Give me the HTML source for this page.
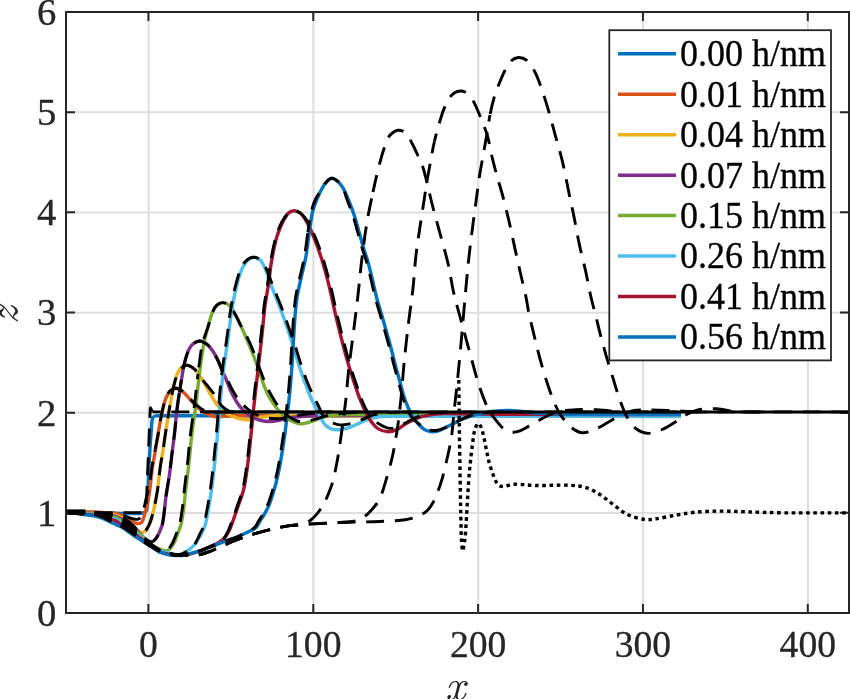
<!DOCTYPE html><html><head><meta charset="utf-8"><title>plot</title><style>html,body{margin:0;padding:0;background:#fff;overflow:hidden}svg{display:block}text{font-family:"Liberation Serif","Times New Roman",serif}</style></head><body>
<svg width="850" height="699" viewBox="0 0 850 699">
<rect width="850" height="699" fill="#fff"/>
<defs><clipPath id="ax"><rect x="66" y="12" width="783" height="601"/></clipPath></defs>
<path d="M148.57 12 V613 M313.41 12 V613 M478.26 12 V613 M643.10 12 V613 M807.94 12 V613 M66 513.03 H849 M66 412.87 H849 M66 312.70 H849 M66 212.53 H849 M66 112.37 H849" stroke="#dedede" stroke-width="2" fill="none"/>
<path d="M148.42 613 V604 M148.42 12 V21 M313.26 613 V604 M313.26 12 V21 M478.11 613 V604 M478.11 12 V21 M642.95 613 V604 M642.95 12 V21 M807.79 613 V604 M807.79 12 V21 M66 613.00 H75 M849 613.00 H840 M66 512.83 H75 M849 512.83 H840 M66 412.67 H75 M849 412.67 H840 M66 312.50 H75 M849 312.50 H840 M66 212.33 H75 M849 212.33 H840 M66 112.17 H75 M849 112.17 H840 M66 12.00 H75 M849 12.00 H840" stroke="#262626" stroke-width="2" fill="none"/>
<g clip-path="url(#ax)" fill="none" stroke-linejoin="round">
<path d="M66.0 512.6 C77.33 512.63 88.00 512.64 100.0 512.7 C113.49 512.77 137.08 514.54 143.0 513.0 C144.68 512.56 145.29 512.28 146.0 511.3 C146.97 509.97 146.95 507.90 147.3 505.0 C148.07 498.73 148.02 485.00 148.5 475.0 C148.98 465.00 149.66 453.28 150.2 445.0 C150.58 439.14 150.97 434.36 151.3 430.0 C151.56 426.62 151.59 423.29 152.0 421.0 C152.26 419.55 152.41 418.36 153.0 417.5 C153.49 416.79 154.22 416.31 155.0 416.0 C155.86 415.66 156.14 415.79 158.0 415.7 L681.0 415.7" stroke="#0072BD" stroke-width="3.4"/>
<path d="M66.0 512.4 C69.00 512.33 71.92 512.30 75.0 512.2 C78.25 512.10 81.67 511.83 85.0 511.8 C88.33 511.77 91.76 511.86 95.0 512.0 C98.08 512.13 101.09 512.39 104.0 512.6 C106.75 512.79 109.79 513.03 112.0 513.2 C113.56 513.32 114.91 513.27 116.0 513.5 C116.79 513.67 117.20 513.94 118.0 514.2 C119.16 514.58 120.98 514.80 122.3 515.5 C123.66 516.22 124.64 517.55 126.0 518.5 C127.51 519.56 129.39 520.72 131.0 521.5 C132.38 522.16 133.69 522.65 135.0 523.0 C136.19 523.32 137.39 523.70 138.5 523.6 C139.55 523.50 140.67 523.27 141.5 522.5 C142.65 521.44 143.30 518.98 144.0 517.0 C144.76 514.84 145.20 512.45 145.8 510.0 C146.46 507.31 147.18 504.56 147.8 501.5 C148.52 497.97 149.18 494.37 149.8 490.0 C150.61 484.26 151.09 476.38 152.0 470.0 C152.85 464.09 154.01 458.75 155.0 453.0 C156.01 447.09 157.05 440.73 158.0 435.0 C158.87 429.77 159.62 424.71 160.5 420.0 C161.29 415.77 162.04 411.80 163.0 408.0 C163.89 404.49 164.72 400.97 166.0 398.0 C167.12 395.39 168.22 392.65 170.0 391.0 C171.60 389.51 173.85 388.17 175.9 388.2 C178.16 388.23 180.78 390.12 183.0 391.8 C185.53 393.71 187.67 396.87 190.0 399.4 C192.33 401.93 194.44 404.73 197.0 407.0 C199.55 409.26 202.36 411.41 205.3 413.0 C208.17 414.55 211.29 415.96 214.4 416.5 C217.46 417.03 220.57 416.41 223.8 416.3 C227.23 416.18 228.27 415.95 234.4 415.8 C274.14 414.86 532.13 415.73 681.0 415.7" stroke="#D95319" stroke-width="3.4"/>
<path d="M66.0 512.4 C69.00 512.38 71.92 512.37 75.0 512.4 C78.25 512.33 81.67 512.24 85.0 512.3 C88.33 512.36 91.67 512.45 95.0 512.7 C98.34 512.95 101.59 513.40 105.0 513.8 C108.58 514.22 112.89 514.33 116.0 515.2 C118.45 515.88 120.28 516.98 122.3 518.0 C124.27 518.99 126.23 519.93 128.0 521.2 C129.80 522.48 131.39 524.17 133.0 525.7 C134.56 527.13 135.97 528.86 137.5 530.1 C138.84 531.11 140.24 532.50 141.6 532.6 C142.84 532.69 144.26 531.86 145.3 531.0 C146.43 530.06 147.17 528.48 148.0 527.0 C148.93 525.35 149.75 523.54 150.5 521.5 C151.38 519.11 152.08 516.29 152.8 513.5 C153.58 510.48 154.29 507.48 155.0 504.0 C155.86 499.79 156.73 495.15 157.5 490.0 C158.43 483.72 159.06 475.82 160.0 469.0 C160.90 462.50 162.01 456.42 163.0 450.0 C164.01 443.42 164.99 436.58 166.0 430.0 C166.99 423.58 168.02 416.85 169.0 411.0 C169.85 405.97 170.59 401.66 171.5 397.0 C172.42 392.33 173.17 387.53 174.5 383.0 C175.81 378.54 176.99 373.03 179.4 370.0 C181.29 367.63 184.00 365.45 186.5 365.3 C189.09 365.14 192.20 367.26 194.7 369.4 C197.82 372.07 200.37 376.88 203.0 381.0 C205.79 385.38 208.41 390.82 210.9 395.0 C212.97 398.47 214.58 401.59 216.8 404.4 C218.90 407.06 221.23 409.52 223.8 411.5 C226.31 413.43 229.09 414.94 232.0 416.2 C234.98 417.49 238.55 418.53 241.5 419.1 C243.98 419.58 246.00 419.83 248.5 419.7 C251.41 419.55 254.76 418.48 257.9 417.9 C261.06 417.32 264.06 416.57 267.4 416.2 C271.08 415.79 272.43 415.84 279.1 415.7 L681.0 415.7" stroke="#EDB120" stroke-width="3.4"/>
<path d="M66.0 512.4 C69.00 512.43 71.92 512.44 75.0 512.5 C78.25 512.57 81.67 512.67 85.0 512.8 C88.33 512.93 91.68 512.95 95.0 513.3 C98.34 513.65 101.59 514.36 105.0 514.9 C108.58 515.46 112.90 515.62 116.0 516.6 C118.46 517.38 120.13 518.49 122.3 519.7 C124.77 521.07 127.65 522.80 130.0 524.5 C132.18 526.08 134.14 527.76 136.0 529.5 C137.79 531.18 139.37 533.13 141.0 534.8 C142.47 536.21 143.87 537.68 145.3 538.8 C146.54 539.77 147.78 540.71 149.0 541.2 C150.01 541.61 151.01 542.03 152.0 541.8 C153.21 541.51 154.53 540.23 155.6 539.0 C156.89 537.51 157.87 535.34 158.9 533.2 C160.09 530.74 161.37 527.98 162.2 525.0 C163.14 521.65 163.44 518.07 164.0 514.0 C164.69 508.96 165.08 503.02 165.9 497.0 C166.83 490.13 168.39 482.22 169.4 475.0 C170.38 468.03 171.05 461.27 171.9 454.4 C172.75 447.51 173.68 440.88 174.5 433.7 C175.39 425.93 176.09 416.82 177.0 409.4 C177.78 403.11 178.66 397.52 179.5 392.0 C180.26 386.97 181.01 382.26 181.8 377.6 C182.55 373.18 183.05 369.06 184.1 364.7 C185.21 360.07 186.67 354.29 188.4 350.6 C189.65 347.94 190.74 345.80 192.6 344.2 C194.47 342.60 197.26 341.01 199.6 341.0 C201.96 340.99 204.60 342.66 206.7 344.2 C208.90 345.81 210.63 348.13 212.4 350.6 C214.44 353.45 216.43 357.28 218.0 360.5 C219.41 363.40 220.23 366.06 221.5 369.0 C222.88 372.21 224.50 375.46 226.0 379.0 C227.66 382.92 229.13 387.52 231.0 391.5 C232.81 395.34 234.83 399.23 237.0 402.5 C238.93 405.42 240.86 408.01 243.2 410.3 C245.50 412.56 248.10 414.55 250.9 416.2 C253.78 417.90 257.10 419.42 260.3 420.3 C263.37 421.15 266.57 421.50 269.7 421.5 C272.83 421.50 275.88 420.88 279.1 420.3 C282.57 419.68 285.70 418.47 289.8 417.8 C295.18 416.92 298.40 416.49 308.7 416.0 C354.32 413.81 556.90 415.80 681.0 415.7" stroke="#7E2F8E" stroke-width="3.4"/>
<path d="M66.0 512.4 C69.00 512.48 71.92 512.52 75.0 512.6 C78.25 512.78 81.67 512.98 85.0 513.2 C88.33 513.43 91.68 513.57 95.0 514.0 C98.34 514.43 101.58 515.21 105.0 515.8 C108.58 516.41 112.93 516.47 116.0 517.6 C118.49 518.52 119.94 519.91 122.3 521.4 C125.42 523.37 129.65 526.01 133.0 528.5 C136.20 530.88 139.12 533.46 142.0 536.0 C144.78 538.46 147.44 541.47 150.0 543.5 C152.07 545.14 153.93 546.41 156.0 547.5 C158.00 548.55 160.32 549.47 162.2 550.0 C163.68 550.42 165.03 550.86 166.3 550.7 C167.48 550.55 168.55 550.06 169.6 549.2 C171.06 548.00 172.45 545.75 173.7 543.5 C175.25 540.71 176.55 536.81 177.8 533.5 C179.01 530.31 180.20 527.51 181.1 524.0 C182.18 519.82 182.80 514.97 183.5 510.0 C184.29 504.39 184.82 497.91 185.5 492.0 C186.16 486.25 186.83 480.67 187.5 475.0 C188.17 469.33 188.89 463.75 189.5 458.0 C190.13 452.09 190.53 445.99 191.2 440.0 C191.87 433.99 192.71 427.94 193.5 422.0 C194.28 416.17 195.07 411.29 195.9 404.7 C197.01 395.93 198.07 384.21 199.4 374.0 C200.73 363.81 202.19 352.14 203.9 343.5 C205.18 337.01 206.62 331.96 208.1 326.6 C209.46 321.67 210.72 316.32 212.4 312.5 C213.66 309.64 214.77 307.07 216.6 305.4 C218.23 303.91 220.45 302.65 222.5 302.6 C224.67 302.54 227.33 303.79 229.3 305.4 C231.62 307.30 233.20 310.80 235.0 313.9 C236.99 317.34 238.78 321.30 240.6 325.2 C242.51 329.29 244.30 333.47 246.2 337.9 C248.26 342.71 250.52 347.95 252.5 353.0 C254.45 357.99 256.11 362.70 258.0 368.0 C260.12 373.95 262.72 382.14 264.6 387.0 C265.80 390.10 266.51 391.98 267.8 394.5 C269.20 397.25 270.92 400.05 272.8 402.8 C274.80 405.72 277.27 409.08 279.5 411.5 C281.34 413.49 283.18 414.98 285.0 416.5 C286.68 417.89 288.07 419.22 290.0 420.3 C292.22 421.54 295.47 422.75 297.7 423.3 C299.31 423.70 300.45 423.88 302.0 423.8 C303.84 423.71 306.05 422.99 308.0 422.5 C309.88 422.02 311.34 421.62 313.5 420.9 C316.71 419.84 321.32 417.48 325.3 416.5 C329.15 415.55 332.44 415.34 337.0 415.0 C343.37 414.52 347.90 414.63 360.0 414.5 L681.0 414.5" stroke="#77AC30" stroke-width="3.4"/>
<path d="M66.0 512.4 C69.00 512.53 71.92 512.59 75.0 512.8 C78.25 513.02 81.67 513.38 85.0 513.7 C88.33 514.02 91.68 514.17 95.0 514.7 C98.35 515.23 101.59 516.15 105.0 516.9 C108.58 517.68 112.95 517.97 116.0 519.3 C118.52 520.40 119.91 522.09 122.3 523.7 C125.38 525.77 129.66 528.14 133.0 530.6 C136.21 532.96 139.09 535.68 142.0 538.1 C144.74 540.38 147.09 542.71 150.0 544.7 C153.06 546.87 156.58 549.02 160.0 550.5 C163.25 551.90 166.83 552.77 170.0 553.5 C172.79 554.14 175.68 554.92 178.0 554.8 C179.81 554.71 181.18 554.20 182.8 553.5 C184.68 552.69 186.64 551.36 188.5 550.0 C190.48 548.55 192.46 547.14 194.3 545.0 C196.65 542.27 199.05 537.93 200.9 534.5 C202.55 531.44 203.90 528.87 205.0 525.5 C206.30 521.52 206.85 517.06 207.8 512.0 C209.01 505.57 210.41 497.58 211.5 490.0 C212.66 481.95 213.58 473.34 214.5 465.0 C215.42 456.67 216.20 448.50 217.0 440.0 C217.83 431.18 218.66 421.64 219.4 413.0 C220.08 405.03 220.58 397.49 221.3 390.0 C221.99 382.84 222.63 376.60 223.6 369.0 C224.75 359.95 226.50 349.32 227.9 339.3 C229.33 329.06 230.57 317.35 232.1 308.2 C233.32 300.89 234.41 295.00 236.0 288.6 C237.56 282.31 239.27 275.10 241.5 270.1 C243.18 266.34 244.92 263.00 247.2 260.8 C249.07 258.99 251.43 257.30 253.6 257.2 C255.73 257.10 258.23 258.41 260.1 260.1 C262.48 262.26 264.08 266.34 265.8 270.1 C267.82 274.54 269.35 280.53 271.1 285.2 C272.64 289.31 274.09 292.62 275.7 296.7 C277.53 301.32 279.72 306.75 281.5 311.5 C283.13 315.86 284.61 320.10 286.0 324.1 C287.26 327.73 288.31 330.87 289.5 334.5 C290.80 338.47 292.07 342.39 293.5 347.0 C295.26 352.67 297.18 359.77 299.2 366.0 C301.18 372.10 303.42 378.39 305.5 384.0 C307.35 388.98 309.03 393.52 311.0 398.0 C312.88 402.27 315.20 406.61 317.0 410.3 C318.47 413.31 319.55 415.97 321.0 418.5 C322.34 420.84 323.54 423.26 325.3 425.0 C326.97 426.65 329.15 428.02 331.2 428.8 C333.09 429.52 335.14 429.64 337.1 429.7 C339.04 429.76 340.81 429.59 342.9 429.2 C345.44 428.73 348.38 427.83 351.2 426.8 C354.27 425.67 357.46 423.95 360.6 422.6 C363.72 421.25 366.82 419.69 370.0 418.7 C373.09 417.74 376.15 417.09 379.4 416.7 C382.81 416.29 384.06 416.48 390.0 416.4 C421.09 415.97 584.00 416.47 681.0 416.5" stroke="#4DBEEE" stroke-width="3.4"/>
<path d="M66.0 512.4 C69.00 512.60 71.92 512.73 75.0 513.0 C78.25 513.29 81.67 513.72 85.0 514.1 C88.33 514.48 91.69 514.66 95.0 515.3 C98.36 515.95 101.59 517.07 105.0 518.0 C108.58 518.97 112.96 519.48 116.0 521.0 C118.54 522.27 119.87 524.20 122.3 525.9 C125.35 528.03 129.64 530.25 133.0 532.6 C136.19 534.83 139.06 537.45 142.0 539.6 C144.72 541.59 147.19 543.15 150.0 545.1 C153.15 547.29 156.51 550.59 160.0 552.1 C163.20 553.53 166.84 553.76 170.0 554.3 C172.80 554.78 175.06 555.28 178.0 555.3 C181.59 555.33 186.22 554.77 190.0 554.0 C193.52 553.29 196.71 552.23 200.0 551.0 C203.38 549.74 206.85 547.90 210.0 546.5 C212.81 545.25 215.60 544.40 218.0 543.0 C220.23 541.70 222.23 540.37 224.0 538.5 C225.94 536.45 227.48 533.94 229.0 531.0 C230.89 527.35 232.41 522.35 234.0 518.0 C235.58 513.68 236.97 509.49 238.5 505.0 C240.14 500.18 242.13 495.41 243.5 490.0 C245.05 483.86 245.93 477.36 247.0 470.0 C248.31 461.03 249.41 450.11 250.5 440.0 C251.61 429.68 252.52 418.87 253.6 408.7 C254.63 399.03 255.74 389.70 256.8 380.4 C257.84 371.34 258.94 362.05 259.9 353.6 C260.76 346.01 261.49 339.54 262.3 332.0 C263.19 323.74 263.91 314.29 265.0 306.0 C266.01 298.35 267.42 291.38 268.5 284.0 C269.59 276.55 270.13 269.22 271.5 261.5 C272.97 253.19 274.95 243.04 277.2 235.8 C278.93 230.26 280.85 225.57 283.0 221.5 C284.76 218.17 286.53 214.69 288.7 212.9 C290.32 211.57 292.16 210.74 294.0 210.7 C295.95 210.65 298.19 211.46 300.1 212.9 C302.73 214.89 305.08 219.07 307.3 222.9 C309.92 227.43 312.13 232.99 314.4 238.6 C316.92 244.84 319.33 251.54 321.6 258.7 C324.13 266.70 326.54 275.82 328.7 284.4 C330.84 292.92 332.57 301.70 334.5 310.0 C336.33 317.88 337.90 324.71 340.0 333.0 C342.49 342.83 345.83 355.70 348.6 365.1 C350.80 372.55 352.96 378.94 355.0 385.0 C356.73 390.14 358.19 394.63 360.0 399.2 C361.74 403.59 363.61 407.98 365.6 411.9 C367.40 415.46 369.08 418.90 371.3 421.8 C373.38 424.52 375.60 427.25 378.4 428.9 C381.22 430.56 385.04 431.64 388.2 431.7 C391.13 431.75 393.86 430.83 396.7 429.6 C399.99 428.18 403.24 425.11 406.6 423.2 C409.85 421.35 413.02 419.61 416.5 418.3 C420.08 416.95 423.62 416.06 427.8 415.3 C432.84 414.38 438.49 413.86 444.7 413.6 C452.28 413.28 461.21 413.87 470.0 414.0 C479.57 414.14 485.79 414.30 500.0 414.4 C534.91 414.64 620.67 414.47 681.0 414.5" stroke="#A2142F" stroke-width="3.4"/>
<path d="M66.0 512.4 C69.00 512.70 71.92 512.95 75.0 513.3 C78.25 513.67 81.76 514.17 85.0 514.6 C88.05 515.00 91.23 515.27 93.9 515.8 C96.14 516.24 97.72 516.61 100.0 517.4 C103.11 518.48 107.76 520.76 110.7 522.1 C112.78 523.05 114.21 523.77 116.0 524.6 C117.81 525.44 119.52 525.99 121.5 527.1 C124.08 528.54 127.55 531.12 130.0 532.8 C131.89 534.10 133.11 535.04 135.0 536.3 C137.38 537.89 140.46 539.80 143.2 541.5 C145.96 543.30 148.73 545.10 151.5 546.8 C154.23 548.48 156.89 550.37 159.7 551.7 C162.40 552.98 165.20 554.05 168.0 554.7 C170.70 555.33 173.46 555.52 176.2 555.6 C178.93 555.68 181.68 555.64 184.4 555.2 C187.18 554.75 189.67 553.79 192.7 552.9 C196.41 551.81 201.49 550.32 205.0 549.1 C207.68 548.17 209.33 547.45 212.0 546.4 C215.61 544.98 220.40 542.94 224.7 541.3 C229.07 539.64 233.72 538.25 238.0 536.5 C242.14 534.81 246.72 532.68 250.0 531.0 C252.37 529.79 254.36 529.18 256.0 527.6 C257.73 525.93 258.59 523.38 260.0 521.1 C261.57 518.57 263.48 515.80 265.0 513.1 C266.48 510.47 267.79 507.96 269.0 505.1 C270.31 501.99 271.42 498.45 272.5 495.1 C273.58 491.75 274.52 488.71 275.5 485.0 C276.69 480.51 277.90 475.38 279.0 470.0 C280.26 463.83 281.47 456.40 282.5 450.0 C283.45 444.11 284.29 438.29 285.0 433.0 C285.62 428.38 286.07 424.25 286.6 420.0 C287.11 415.92 287.59 412.41 288.1 408.0 C288.72 402.61 289.41 396.30 290.0 390.0 C290.65 383.04 291.25 375.78 291.8 368.0 C292.42 359.23 292.92 349.16 293.5 340.0 C294.06 331.17 294.51 321.87 295.2 314.0 C295.78 307.44 296.36 301.25 297.2 296.0 C297.86 291.87 298.66 288.82 299.5 285.0 C300.41 280.84 301.47 276.56 302.5 272.0 C303.64 266.95 304.95 261.89 306.0 256.0 C307.28 248.83 308.13 239.72 309.3 232.0 C310.40 224.76 311.20 217.10 312.8 211.0 C314.09 206.08 315.91 201.84 317.5 198.0 C318.81 194.83 320.03 192.15 321.5 189.5 C322.88 187.01 324.23 184.42 326.0 182.5 C327.61 180.75 329.58 178.53 331.5 178.3 C333.32 178.08 335.45 179.46 337.2 180.8 C339.32 182.42 341.15 185.09 342.9 187.9 C345.03 191.31 346.78 195.74 348.6 200.1 C350.63 204.96 352.57 210.21 354.4 215.8 C356.43 222.03 358.38 229.76 360.1 235.8 C361.52 240.80 362.65 245.05 364.0 249.5 C365.29 253.77 366.70 257.43 368.0 262.0 C369.55 267.43 371.02 273.91 372.5 280.0 C374.02 286.24 375.37 292.86 377.0 299.0 C378.55 304.85 380.33 310.22 382.0 316.0 C383.73 322.01 385.56 328.52 387.2 334.4 C388.71 339.81 390.09 344.68 391.5 350.0 C392.96 355.54 394.34 361.52 395.8 367.0 C397.18 372.17 398.62 377.00 400.0 382.0 C401.38 387.00 402.58 392.37 404.1 397.0 C405.45 401.12 406.97 405.07 408.5 408.5 C409.79 411.39 410.88 413.74 412.5 416.3 C414.26 419.08 416.64 422.17 418.8 424.5 C420.66 426.50 422.48 428.42 424.5 429.6 C426.27 430.64 428.07 431.22 430.1 431.5 C432.39 431.82 435.23 431.66 437.6 431.1 C439.92 430.55 441.93 429.25 444.2 428.2 C446.65 427.06 449.14 425.81 451.8 424.5 C454.77 423.03 458.04 421.23 461.2 419.8 C464.31 418.40 467.42 416.97 470.6 416.0 C473.69 415.05 476.82 414.69 480.0 414.0 C483.28 413.29 486.65 412.37 490.0 411.8 C493.32 411.24 496.66 410.83 500.0 410.6 C503.33 410.37 506.67 410.28 510.0 410.4 C513.34 410.52 516.33 410.93 520.0 411.3 C524.50 411.76 529.36 412.57 535.0 413.0 C542.27 413.56 548.54 413.76 560.0 414.0 C585.21 414.52 640.67 414.13 681.0 414.2" stroke="#0072BD" stroke-width="3.4"/>
<path d="M205 412 H849" stroke="#000" stroke-width="2.9"/><path d="M66 511.9 H85.5" stroke="#000" stroke-width="5"/>
<path d="M152.5 411.8 C155.00 411.83 155.47 411.87 160.0 411.9 L849.0 411.9" stroke="#000" stroke-width="2.9" stroke-dasharray="18 10.7" stroke-dashoffset="9.9"/>
<path d="M66.00 512.60 L142.00 512.60 C143.59 512.02 143.87 511.54 144.50 510.50 C145.41 509.02 145.58 506.97 146.00 504.00 C146.87 497.81 147.02 485.12 147.50 475.00 C148.03 463.88 148.58 450.05 149.00 440.00 C149.31 432.41 149.58 425.52 149.80 420.00 C149.96 416.09 150.02 412.19 150.20 410.00 C150.29 408.92 150.31 407.62 150.50 407.60 C150.68 407.58 150.98 408.93 151.30 409.60 C151.64 410.33 152.10 411.07 152.50 411.80" stroke="#000" stroke-width="2.9" stroke-dasharray="18 10.7"/>
<path d="M66.00 512.40 C72.00 512.47 78.18 512.35 84.00 512.60 C89.49 512.84 94.94 513.38 100.00 513.80 C104.56 514.18 108.87 514.62 113.00 515.00 C116.77 515.35 120.73 515.37 123.80 516.00 C126.18 516.49 128.04 517.43 130.00 518.00 C131.75 518.51 133.47 519.17 135.00 519.30 C136.26 519.41 137.46 519.49 138.50 519.00 C139.65 518.47 140.67 517.37 141.50 516.00 C142.67 514.07 143.25 510.83 144.00 508.00 C144.83 504.87 145.43 501.17 146.20 498.00 C146.90 495.10 147.74 492.72 148.40 489.70 C149.17 486.15 149.72 482.32 150.40 478.00 C151.24 472.65 152.12 465.11 153.00 460.00 C153.66 456.17 154.27 453.67 155.00 450.00" stroke="#000" stroke-width="2.9" stroke-dasharray="18 10.7"/>
<path d="M155.00 450.00 C155.90 445.51 157.08 440.01 158.00 435.00 C158.92 430.01 159.62 424.71 160.50 420.00 C161.29 415.77 162.04 411.80 163.00 408.00 C163.89 404.49 164.72 400.97 166.00 398.00 C167.12 395.39 168.22 392.65 170.00 391.00 C171.60 389.51 173.84 388.21 175.90 388.20 C178.16 388.19 180.72 389.87 183.00 391.50 C185.75 393.46 188.41 397.23 190.90 399.70 C193.04 401.83 194.84 403.73 197.00 405.50 C199.14 407.26 201.49 409.21 203.80 410.30 C205.83 411.26 207.31 411.64 210.00 412.00 C214.74 412.64 223.33 412.00 230.00 412.00" stroke="#000" stroke-width="2.9" stroke-dasharray="18 10.7" stroke-dashoffset="28.23"/>
<path d="M66.00 512.40 C72.00 512.40 78.74 512.38 84.00 512.40 C88.12 512.42 91.52 512.33 95.00 512.50 C98.15 512.65 101.10 512.86 104.00 513.30 C106.76 513.71 109.18 514.32 112.00 515.00 C115.23 515.78 119.43 516.63 122.30 517.80 C124.55 518.72 126.23 519.73 128.00 521.00 C129.80 522.29 131.40 523.98 133.00 525.50 C134.56 526.98 135.97 528.77 137.50 530.00 C138.84 531.07 140.24 532.49 141.60 532.60 C142.84 532.70 144.26 531.86 145.30 531.00 C146.43 530.06 147.17 528.48 148.00 527.00 C148.93 525.35 149.75 523.54 150.50 521.50 C151.38 519.11 152.08 516.29 152.80 513.50 C153.58 510.48 154.29 507.48 155.00 504.00 C155.86 499.79 156.73 495.15 157.50 490.00 C158.43 483.72 159.06 475.82 160.00 469.00 C160.90 462.50 162.01 456.42 163.00 450.00 C164.01 443.42 164.99 436.58 166.00 430.00 C166.99 423.58 168.02 416.85 169.00 411.00" stroke="#000" stroke-width="2.9" stroke-dasharray="18 10.7"/>
<path d="M169.00 411.00 C169.85 405.97 170.59 401.66 171.50 397.00 C172.42 392.33 173.17 387.53 174.50 383.00 C175.81 378.54 176.99 373.03 179.40 370.00 C181.29 367.63 184.00 365.45 186.50 365.30 C189.09 365.14 192.15 367.28 194.70 369.40 C197.92 372.07 201.03 377.86 203.50 381.00 C205.23 383.19 206.51 384.69 208.00 386.50 C209.47 388.29 211.04 390.01 212.40 391.80 C213.70 393.51 214.90 395.21 216.00 397.00 C217.10 398.78 217.75 400.74 219.00 402.50 C220.37 404.42 222.13 406.49 224.00 408.00 C225.81 409.46 227.65 410.80 230.00 411.50 C232.82 412.34 236.67 411.83 240.00 412.00" stroke="#000" stroke-width="2.9" stroke-dasharray="18 10.7" stroke-dashoffset="12.33"/>
<path d="M66.00 512.40 C72.00 512.40 78.74 512.28 84.00 512.40 C88.12 512.49 91.52 512.57 95.00 512.90 C98.16 513.20 101.12 513.53 104.00 514.20 C106.77 514.85 109.17 515.87 112.00 516.80 C115.22 517.85 119.19 518.74 122.30 520.20 C125.14 521.53 127.65 523.30 130.00 525.00 C132.18 526.58 134.13 528.29 136.00 530.00 C137.78 531.63 139.37 533.47 141.00 535.00 C142.47 536.38 143.88 537.72 145.30 538.80 C146.54 539.75 147.78 540.71 149.00 541.20 C150.01 541.61 151.01 542.03 152.00 541.80 C153.21 541.51 154.53 540.23 155.60 539.00 C156.89 537.51 157.87 535.34 158.90 533.20 C160.09 530.74 161.37 527.98 162.20 525.00 C163.14 521.65 163.44 518.07 164.00 514.00 C164.69 508.96 165.08 503.02 165.90 497.00 C166.83 490.13 168.39 482.22 169.40 475.00 C170.38 468.03 171.05 461.27 171.90 454.40 C172.75 447.51 173.68 440.88 174.50 433.70 C175.39 425.93 176.09 416.82 177.00 409.40 C177.78 403.11 178.66 397.52 179.50 392.00" stroke="#000" stroke-width="2.9" stroke-dasharray="18 10.7"/>
<path d="M179.50 392.00 C180.26 386.97 181.01 382.26 181.80 377.60 C182.55 373.18 183.05 369.06 184.10 364.70 C185.21 360.07 186.67 354.29 188.40 350.60 C189.65 347.94 190.74 345.80 192.60 344.20 C194.47 342.60 197.26 341.01 199.60 341.00 C201.96 340.99 204.60 342.66 206.70 344.20 C208.90 345.81 210.63 348.13 212.40 350.60 C214.44 353.45 216.43 357.28 218.00 360.50 C219.41 363.40 220.14 366.17 221.50 369.00 C222.94 372.00 224.79 374.76 226.50 378.00 C228.45 381.69 230.46 386.33 232.50 390.00 C234.31 393.26 236.02 396.31 238.00 399.00 C239.81 401.46 241.68 403.54 243.80 405.60 C245.97 407.71 248.45 409.85 250.90 411.50 C253.19 413.04 255.51 414.26 258.00 415.30 C260.54 416.37 263.23 417.22 266.00 417.80 C268.88 418.40 272.09 418.73 275.00 418.80 C277.74 418.87 280.08 418.67 283.00 418.30 C286.61 417.84 290.77 416.76 295.00 416.00 C299.72 415.16 304.63 414.15 310.00 413.50 C316.17 412.76 323.33 412.50 330.00 412.00" stroke="#000" stroke-width="2.9" stroke-dasharray="18 10.7" stroke-dashoffset="5.59"/>
<path d="M66.00 512.40 C72.00 512.40 78.74 512.21 84.00 512.40 C88.12 512.55 91.53 512.73 95.00 513.20 C98.16 513.63 101.14 514.08 104.00 515.00 C106.80 515.90 109.14 517.43 112.00 518.60 C115.20 519.91 118.93 520.69 122.30 522.40 C125.94 524.25 129.65 527.01 133.00 529.50 C136.20 531.88 139.08 534.60 142.00 537.00 C144.74 539.25 147.48 541.65 150.00 543.50 C152.10 545.05 154.08 546.37 156.00 547.50 C157.66 548.48 159.22 549.47 160.80 550.00 C162.18 550.47 163.63 550.86 164.90 550.70 C166.08 550.55 167.15 550.06 168.20 549.20 C169.66 548.00 171.05 545.75 172.30 543.50 C173.85 540.71 175.15 536.81 176.40 533.50 C177.61 530.31 178.80 527.51 179.70 524.00 C180.78 519.82 181.40 514.97 182.10 510.00 C182.89 504.39 183.42 497.91 184.10 492.00 C184.76 486.25 185.43 480.67 186.10 475.00 C186.77 469.33 187.49 463.75 188.10 458.00 C188.73 452.09 189.13 445.99 189.80 440.00 C190.47 433.99 191.31 427.94 192.10 422.00 C192.88 416.17 193.67 411.29 194.50 404.70 C195.61 395.93 196.67 384.21 198.00 374.00" stroke="#000" stroke-width="2.9" stroke-dasharray="18 10.7"/>
<path d="M198.00 374.00 C199.33 363.81 200.46 352.10 202.50 343.50 C204.05 336.96 206.39 331.99 208.10 326.60 C209.66 321.70 210.72 316.32 212.40 312.50 C213.66 309.64 214.77 307.07 216.60 305.40 C218.23 303.91 220.45 302.65 222.50 302.60 C224.67 302.54 227.33 303.79 229.30 305.40 C231.62 307.30 233.20 310.80 235.00 313.90 C236.99 317.34 238.60 321.34 240.60 325.20 C242.74 329.33 245.33 333.43 247.50 337.90 C249.81 342.67 251.99 347.95 254.00 353.00 C255.98 357.98 257.57 362.85 259.50 368.00 C261.56 373.50 263.78 380.07 266.00 385.00 C267.80 388.98 269.71 392.32 271.50 395.50 C273.03 398.23 274.32 400.50 276.00 403.00 C277.80 405.67 279.68 408.61 282.00 411.00 C284.34 413.42 287.34 415.67 290.00 417.40 C292.34 418.91 294.60 420.27 297.00 421.00 C299.27 421.69 301.66 421.91 304.00 421.80 C306.39 421.69 308.69 420.92 311.20 420.30 C314.00 419.61 317.18 418.61 320.00 417.80 C322.63 417.05 324.74 416.25 327.60 415.60 C331.21 414.77 335.36 414.07 340.00 413.50 C345.86 412.79 353.33 412.50 360.00 412.00" stroke="#000" stroke-width="2.9" stroke-dasharray="18 10.7" stroke-dashoffset="21.99"/>
<path d="M66.00 512.40 C72.00 512.40 78.74 512.11 84.00 512.40 C88.12 512.62 91.54 512.95 95.00 513.60 C98.17 514.19 101.15 514.86 104.00 516.00 C106.82 517.13 109.12 519.03 112.00 520.40 C115.18 521.91 118.91 522.84 122.30 524.60 C125.92 526.49 129.66 529.04 133.00 531.50 C136.21 533.86 139.06 536.67 142.00 539.00 C144.72 541.15 147.11 543.14 150.00 545.00 C153.08 546.99 156.59 549.07 160.00 550.50 C163.26 551.87 166.83 552.77 170.00 553.50 C172.79 554.14 175.68 554.92 178.00 554.80 C179.81 554.71 181.18 554.20 182.80 553.50 C184.68 552.69 186.64 551.36 188.50 550.00 C190.48 548.55 192.58 547.18 194.30 545.00 C196.43 542.29 198.06 537.88 199.70 534.50 C201.20 531.40 202.70 528.87 203.80 525.50 C205.10 521.52 205.65 517.06 206.60 512.00 C207.81 505.57 209.21 497.58 210.30 490.00 C211.46 481.95 212.38 473.34 213.30 465.00 C214.22 456.67 215.00 448.50 215.80 440.00 C216.63 431.18 217.46 421.64 218.20 413.00 C218.88 405.03 219.38 397.49 220.10 390.00 C220.79 382.84 221.43 376.60 222.40 369.00 C223.55 359.95 225.30 349.32 226.70 339.30 C228.13 329.06 229.37 317.35 230.90 308.20" stroke="#000" stroke-width="2.9" stroke-dasharray="18 10.7"/>
<path d="M230.90 308.20 C232.12 300.89 233.21 295.00 234.80 288.60 C236.36 282.31 238.07 275.10 240.30 270.10 C241.98 266.34 243.58 262.98 246.00 260.80 C248.13 258.89 251.11 257.27 253.60 257.20 C255.94 257.13 258.48 258.31 260.50 260.00 C263.04 262.13 264.92 266.22 266.80 270.00 C268.99 274.40 270.67 280.32 272.50 285.00 C274.12 289.15 275.56 292.57 277.20 296.70 C279.04 301.34 281.22 306.76 283.00 311.50 C284.63 315.83 286.08 320.01 287.50 324.00 C288.80 327.65 289.93 330.85 291.20 334.50 C292.59 338.48 293.98 342.39 295.50 347.00 C297.37 352.66 299.39 359.77 301.50 366.00 C303.56 372.10 305.76 378.53 308.00 384.00 C309.94 388.73 312.11 393.08 314.00 397.00 C315.58 400.29 316.92 402.82 318.50 406.00 C320.27 409.57 321.84 414.62 324.10 417.40 C325.83 419.53 327.84 420.85 330.00 422.00 C332.14 423.14 334.64 423.83 337.00 424.30 C339.31 424.75 341.68 424.93 344.00 424.80 C346.34 424.67 348.44 424.18 351.00 423.50 C354.24 422.63 358.24 421.08 361.80 419.70 C365.37 418.31 368.65 416.34 372.40 415.20 C376.36 414.00 380.60 413.33 385.00 412.80 C389.76 412.22 395.00 412.27 400.00 412.00" stroke="#000" stroke-width="2.9" stroke-dasharray="18 10.7" stroke-dashoffset="11.16"/>
<path d="M66.00 512.40 C72.00 512.40 78.75 512.02 84.00 512.40 C88.13 512.70 91.55 513.18 95.00 514.00 C98.19 514.76 101.17 515.64 104.00 517.00 C106.84 518.37 109.10 520.62 112.00 522.20 C115.16 523.92 118.90 524.99 122.30 526.80 C125.90 528.72 129.64 531.15 133.00 533.50 C136.19 535.73 139.06 538.35 142.00 540.50 C144.72 542.49 147.14 544.24 150.00 546.00 C153.10 547.91 156.58 550.10 160.00 551.50 C163.26 552.83 166.83 553.66 170.00 554.30 C172.79 554.86 175.06 555.28 178.00 555.30 C181.59 555.33 186.22 554.77 190.00 554.00 C193.52 553.29 196.71 552.23 200.00 551.00 C203.38 549.74 206.85 547.90 210.00 546.50 C212.81 545.25 215.60 544.40 218.00 543.00 C220.23 541.70 222.35 540.41 224.00 538.50 C225.76 536.46 226.76 533.89 228.10 531.00 C229.81 527.31 231.51 522.35 233.10 518.00 C234.68 513.68 236.07 509.49 237.60 505.00 C239.24 500.18 241.23 495.41 242.60 490.00 C244.15 483.86 245.03 477.36 246.10 470.00 C247.41 461.03 248.51 450.11 249.60 440.00 C250.71 429.68 251.62 418.87 252.70 408.70 C253.73 399.03 254.84 389.70 255.90 380.40 C256.94 371.34 258.04 362.05 259.00 353.60 C259.86 346.01 260.59 339.54 261.40 332.00 C262.29 323.74 263.01 314.29 264.10 306.00 C265.11 298.35 266.52 291.38 267.60 284.00 C268.69 276.55 269.23 269.22 270.60 261.50" stroke="#000" stroke-width="2.9" stroke-dasharray="18 10.7"/>
<path d="M270.60 261.50 C272.07 253.19 274.05 243.04 276.30 235.80 C278.03 230.26 279.79 225.53 282.10 221.50 C284.04 218.12 286.37 214.69 288.70 212.90 C290.40 211.60 292.16 210.74 294.00 210.70 C295.95 210.65 298.09 211.50 300.10 212.90 C302.95 214.89 306.02 219.00 308.50 222.90 C311.36 227.39 313.50 232.99 315.80 238.60 C318.36 244.83 320.72 251.55 323.00 258.70 C325.55 266.70 328.03 275.81 330.20 284.40 C332.36 292.91 334.07 301.70 336.00 310.00 C337.83 317.88 339.41 324.72 341.50 333.00 C343.97 342.80 347.23 355.61 350.00 365.00 C352.21 372.48 354.44 378.91 356.50 385.00 C358.24 390.15 359.68 394.73 361.50 399.20 C363.20 403.36 364.93 407.54 367.00 411.00 C368.82 414.03 370.76 416.71 373.00 419.00 C375.12 421.16 377.33 422.98 380.00 424.50 C382.93 426.17 386.56 428.22 390.00 428.40 C393.55 428.59 397.59 426.77 401.00 425.40 C404.23 424.10 406.95 422.03 410.00 420.50 C413.05 418.97 416.04 417.39 419.30 416.20 C422.69 414.97 425.89 413.99 430.00 413.30 C435.39 412.39 442.67 412.43 449.00 412.00" stroke="#000" stroke-width="2.9" stroke-dasharray="18 10.7" stroke-dashoffset="25.03"/>
<path d="M66.00 512.40 C69.00 512.70 71.92 513.06 75.00 513.30 C78.24 513.55 81.76 513.68 85.00 513.85 C88.05 514.01 91.23 513.90 93.90 514.31 C96.14 514.66 97.72 515.11 100.00 515.90 C103.11 516.98 107.76 519.26 110.70 520.60 C112.78 521.55 114.21 522.27 116.00 523.10 C117.81 523.94 119.52 524.49 121.50 525.60 C124.08 527.04 127.55 529.62 130.00 531.30 C131.89 532.60 133.11 533.54 135.00 534.80 C137.38 536.39 140.46 538.29 143.20 540.04 C145.96 541.81 148.74 543.60 151.50 545.34 C154.24 547.08 156.89 549.08 159.70 550.49 C162.40 551.85 165.20 553.01 168.00 553.74 C170.70 554.45 173.46 554.72 176.20 554.89 C178.93 555.05 181.68 555.09 184.40 554.73 C187.18 554.37 189.67 553.50 192.70 552.68 C196.41 551.68 201.50 550.28 205.00 549.10 C207.68 548.19 209.33 547.45 212.00 546.40 C215.61 544.98 220.40 542.94 224.70 541.30 C229.07 539.64 233.87 538.31 238.00 536.50 C241.79 534.84 245.58 532.64 248.60 531.00 C250.90 529.75 252.96 529.18 254.60 527.60 C256.33 525.93 257.19 523.38 258.60 521.10 C260.17 518.57 262.08 515.80 263.60 513.10 C265.08 510.47 266.39 507.96 267.60 505.10 C268.91 501.99 270.02 498.45 271.10 495.10 C272.18 491.75 273.12 488.71 274.10 485.00 C275.29 480.51 276.50 475.38 277.60 470.00 C278.86 463.83 280.07 456.40 281.10 450.00 C282.05 444.11 282.89 438.29 283.60 433.00 C284.22 428.38 284.67 424.25 285.20 420.00 C285.71 415.92 286.19 412.41 286.70 408.00 C287.32 402.61 288.01 396.30 288.60 390.00 C289.25 383.04 289.85 375.78 290.40 368.00 C291.02 359.23 291.52 349.16 292.10 340.00 C292.66 331.17 293.11 321.87 293.80 314.00 C294.38 307.44 294.96 301.25 295.80 296.00 C296.46 291.87 297.26 288.82 298.10 285.00 C299.01 280.84 300.07 276.56 301.10 272.00 C302.24 266.95 303.55 261.89 304.60 256.00 C305.88 248.83 306.73 239.72 307.90 232.00" stroke="#000" stroke-width="2.9" stroke-dasharray="18 10.7"/>
<path d="M307.90 232.00 C309.00 224.76 309.80 217.10 311.40 211.00 C312.69 206.08 314.24 201.79 316.10 198.00 C317.69 194.77 319.78 192.19 321.50 189.50 C323.06 187.05 324.23 184.42 326.00 182.50 C327.61 180.75 329.58 178.53 331.50 178.30 C333.32 178.08 335.45 179.46 337.20 180.80 C339.32 182.42 341.32 185.06 342.90 187.90 C344.79 191.29 345.64 195.78 347.20 200.10 C348.97 205.01 351.17 210.21 353.00 215.80 C355.03 222.03 356.98 229.76 358.70 235.80 C360.12 240.80 361.25 245.05 362.60 249.50 C363.89 253.77 365.30 257.43 366.60 262.00 C368.15 267.43 369.62 273.91 371.10 280.00 C372.62 286.24 373.97 292.86 375.60 299.00 C377.15 304.85 378.93 310.22 380.60 316.00 C382.33 322.01 384.16 328.52 385.80 334.40 C387.31 339.81 388.69 344.68 390.10 350.00 C391.56 355.54 392.94 361.52 394.40 367.00 C395.78 372.17 397.22 377.00 398.60 382.00 C399.98 387.00 401.18 392.37 402.70 397.00 C404.05 401.12 405.57 405.07 407.10 408.50 C408.39 411.39 409.29 413.85 411.10 416.30 C413.13 419.05 416.57 421.80 419.00 424.00 C420.96 425.77 422.46 427.55 424.50 428.60 C426.47 429.62 428.81 430.03 431.00 430.30 C433.17 430.56 435.43 430.57 437.60 430.20 C439.83 429.82 441.95 428.89 444.20 428.00 C446.67 427.02 449.15 425.81 451.80 424.50 C454.79 423.02 458.03 421.01 461.20 419.50 C464.30 418.02 467.42 416.54 470.60 415.50 C473.69 414.49 476.48 413.86 480.00 413.30 C484.40 412.60 490.00 412.43 495.00 412.00" stroke="#000" stroke-width="2.9" stroke-dasharray="18 10.7" stroke-dashoffset="6.13"/>
<path d="M66.00 512.40 C69.00 512.70 71.92 513.06 75.00 513.30 C78.24 513.55 81.76 513.68 85.00 513.85 C88.05 514.01 91.23 513.90 93.90 514.31 C96.14 514.66 97.72 515.11 100.00 515.90 C103.11 516.98 107.76 519.26 110.70 520.60 C112.78 521.55 114.21 522.27 116.00 523.10 C117.81 523.94 119.52 524.49 121.50 525.60 C124.08 527.04 127.55 529.62 130.00 531.30 C131.89 532.60 133.11 533.54 135.00 534.80 C137.38 536.39 140.46 538.29 143.20 540.04 C145.96 541.81 148.74 543.60 151.50 545.34 C154.24 547.08 156.89 549.08 159.70 550.49 C162.40 551.85 165.20 553.01 168.00 553.74 C170.70 554.45 173.46 554.72 176.20 554.89 C178.93 555.05 181.72 554.64 184.40 554.73 C186.98 554.82 189.62 555.37 192.00 555.40 C194.12 555.42 195.77 555.38 198.00 555.00 C200.93 554.50 204.70 553.35 208.00 552.20 C211.37 551.03 214.53 549.52 218.00 548.00 C221.83 546.32 225.81 544.25 230.00 542.50 C234.46 540.64 239.60 538.75 244.00 537.20 C247.87 535.83 250.93 534.80 255.00 533.60 C259.97 532.13 266.79 530.37 271.70 529.20 C275.53 528.29 278.78 527.63 282.00 527.00 C284.83 526.45 287.17 525.99 290.00 525.60 C293.16 525.17 296.77 525.45 300.10 524.60 C303.61 523.71 307.27 522.51 310.50 520.20 C314.29 517.49 317.75 513.36 320.90 508.60 C324.83 502.66 328.53 494.28 331.20 486.60 C333.93 478.76 335.42 470.00 337.00 462.00 C338.48 454.49 339.42 447.34 340.50 440.00 C341.58 432.67 342.58 424.97 343.50 418.00 C344.33 411.70 345.06 406.69 345.80 400.00 C346.74 391.59 347.35 381.96 348.50 371.50 C349.92 358.65 352.24 342.03 353.90 328.60 C355.37 316.72 356.73 306.15 358.00 295.00 C359.26 283.96 360.10 273.52 361.50 262.00 C363.05 249.30 364.92 234.35 367.00 222.00 C368.81 211.25 371.03 201.21 373.00 192.00" stroke="#000" stroke-width="2.9" stroke-dasharray="18 10.7"/>
<path d="M373.00 192.00 C374.69 184.09 376.17 177.23 378.00 170.00 C379.80 162.90 381.89 154.98 383.90 149.00 C385.44 144.40 386.72 139.91 388.60 137.00 C389.91 134.97 391.38 133.63 393.00 132.50 C394.50 131.45 396.23 130.49 397.90 130.30 C399.53 130.12 401.41 130.55 402.90 131.30 C404.45 132.08 405.82 133.61 407.00 135.00 C408.18 136.38 408.85 137.60 410.00 139.60 C411.97 143.03 415.00 149.26 417.20 154.00 C419.28 158.49 421.38 162.96 422.90 167.30 C424.29 171.28 424.91 174.35 426.10 179.00 C427.84 185.78 429.88 195.38 432.10 204.10 C434.54 213.67 437.52 224.09 440.20 234.10 C442.88 244.12 445.94 254.30 448.20 264.20 C450.37 273.69 451.44 282.83 453.60 292.30 C455.84 302.15 458.77 312.06 461.50 322.20 C464.33 332.72 467.32 343.60 470.30 354.30 C473.29 365.03 476.04 376.66 479.40 386.50 C482.35 395.12 485.69 404.20 489.00 410.30 C491.28 414.51 493.68 417.31 496.00 420.30 C498.01 422.90 499.90 425.48 502.00 427.30 C503.76 428.83 505.60 429.98 507.50 430.80 C509.27 431.57 511.05 432.15 513.00 432.20 C515.19 432.26 517.56 431.67 520.00 430.80 C522.98 429.74 526.27 427.50 529.40 425.80 C532.54 424.10 535.68 422.33 538.80 420.60 C541.88 418.89 544.81 417.01 548.00 415.50 C551.24 413.97 554.23 412.44 558.10 411.50 C562.94 410.32 568.99 410.10 575.00 409.80 C581.84 409.46 589.59 409.45 597.00 409.80 C604.59 410.16 612.33 411.27 620.00 412.00" stroke="#000" stroke-width="2.9" stroke-dasharray="18 10.7" stroke-dashoffset="0.63"/>
<path d="M66.00 512.40 C69.00 512.70 71.92 513.06 75.00 513.30 C78.24 513.55 81.76 513.68 85.00 513.85 C88.05 514.01 91.23 513.90 93.90 514.31 C96.14 514.66 97.72 515.11 100.00 515.90 C103.11 516.98 107.76 519.26 110.70 520.60 C112.78 521.55 114.21 522.27 116.00 523.10 C117.81 523.94 119.52 524.49 121.50 525.60 C124.08 527.04 127.55 529.62 130.00 531.30 C131.89 532.60 133.11 533.54 135.00 534.80 C137.38 536.39 140.46 538.29 143.20 540.04 C145.96 541.81 148.74 543.60 151.50 545.34 C154.24 547.08 156.89 549.08 159.70 550.49 C162.40 551.85 165.20 553.01 168.00 553.74 C170.70 554.45 173.46 554.72 176.20 554.89 C178.93 555.05 181.72 554.64 184.40 554.73 C186.98 554.82 189.62 555.37 192.00 555.40 C194.12 555.42 195.77 555.38 198.00 555.00 C200.93 554.50 204.70 553.35 208.00 552.20 C211.37 551.03 214.53 549.52 218.00 548.00 C221.83 546.32 225.81 544.25 230.00 542.50 C234.46 540.64 239.60 538.75 244.00 537.20 C247.87 535.83 250.93 534.80 255.00 533.60 C259.97 532.13 266.79 530.37 271.70 529.20 C275.53 528.29 278.78 527.63 282.00 527.00 C284.83 526.45 287.17 525.99 290.00 525.60 C293.16 525.17 296.16 524.90 300.10 524.60 C305.62 524.17 313.36 523.85 320.00 523.50 C326.66 523.15 333.82 522.96 340.00 522.50 C345.36 522.10 350.45 522.36 355.00 521.00 C359.22 519.74 363.25 517.47 366.50 515.00 C369.49 512.73 371.78 509.70 374.00 507.00 C376.04 504.52 377.68 502.86 379.40 499.50 C382.21 494.02 384.96 483.73 387.20 476.20 C389.27 469.26 391.07 462.37 392.50 456.00 C393.76 450.38 394.59 445.25 395.50 440.00 C396.38 434.93 397.11 430.78 397.90 425.00 C398.98 417.16 400.10 407.10 401.10 397.20 C402.25 385.89 403.07 373.10 404.30 360.80 C405.56 348.11 407.11 334.58 408.60 322.20 C409.98 310.71 411.66 300.21 412.90 289.00 C414.17 277.55 414.82 265.17 416.10 254.20 C417.26 244.32 418.74 235.28 420.10 226.10 C421.41 217.26 422.88 208.10 424.10 200.10 C425.15 193.24 425.97 187.17 427.00 181.00 C427.98 175.16 428.97 170.06 430.10 164.00 C431.40 157.02 432.77 148.61 434.40 141.50" stroke="#000" stroke-width="2.9" stroke-dasharray="18 10.7"/>
<path d="M434.40 141.50 C435.90 134.98 437.64 128.74 439.40 122.90 C440.99 117.61 442.47 112.43 444.40 107.90 C446.10 103.90 448.02 99.71 450.10 97.00 C451.63 95.00 453.22 93.50 455.00 92.50 C456.59 91.60 458.41 91.07 460.10 91.00 C461.74 90.93 463.33 91.05 465.00 92.00 C467.58 93.47 470.76 97.44 473.00 100.80 C475.38 104.36 476.89 108.76 478.70 112.90 C480.56 117.15 482.46 121.91 484.00 126.00 C485.34 129.54 486.36 131.98 487.50 136.00 C489.16 141.87 490.64 151.05 492.30 158.00 C493.81 164.32 495.34 169.95 497.00 176.00 C498.70 182.18 500.59 187.99 502.40 194.70 C504.49 202.46 506.73 211.49 508.70 219.90 C510.66 228.29 512.30 236.45 514.20 245.10 C516.22 254.29 518.45 264.48 520.50 273.50 C522.37 281.74 524.56 290.09 526.00 297.10 C527.15 302.68 527.57 306.69 528.70 312.20 C530.08 318.93 532.07 326.94 533.90 334.50 C535.80 342.36 537.67 350.39 539.90 358.50 C542.22 366.95 544.99 376.33 547.60 384.20 C549.86 391.02 552.23 397.80 554.50 403.10 C556.22 407.11 557.68 410.25 559.60 413.40 C561.40 416.35 563.48 419.02 565.60 421.50 C567.62 423.86 569.47 426.18 572.00 428.00 C574.74 429.97 578.43 432.20 581.60 432.70 C584.42 433.15 587.14 432.33 590.00 431.50 C593.25 430.56 596.22 428.92 600.00 427.00 C605.22 424.34 612.46 419.39 618.20 416.60 C623.03 414.25 626.99 412.12 632.00 411.00 C637.51 409.77 642.50 410.06 650.00 410.00 C662.50 409.90 683.33 411.33 700.00 412.00" stroke="#000" stroke-width="2.9" stroke-dasharray="18 10.7" stroke-dashoffset="9.99"/>
<path d="M66.00 512.40 C69.00 512.70 71.92 513.06 75.00 513.30 C78.24 513.55 81.76 513.68 85.00 513.85 C88.05 514.01 91.23 513.90 93.90 514.31 C96.14 514.66 97.72 515.11 100.00 515.90 C103.11 516.98 107.76 519.26 110.70 520.60 C112.78 521.55 114.21 522.27 116.00 523.10 C117.81 523.94 119.52 524.49 121.50 525.60 C124.08 527.04 127.55 529.62 130.00 531.30 C131.89 532.60 133.11 533.54 135.00 534.80 C137.38 536.39 140.46 538.29 143.20 540.04 C145.96 541.81 148.74 543.60 151.50 545.34 C154.24 547.08 156.89 549.08 159.70 550.49 C162.40 551.85 165.20 553.01 168.00 553.74 C170.70 554.45 173.46 554.72 176.20 554.89 C178.93 555.05 181.72 554.64 184.40 554.73 C186.98 554.82 189.62 555.37 192.00 555.40 C194.12 555.42 195.77 555.38 198.00 555.00 C200.93 554.50 204.70 553.35 208.00 552.20 C211.37 551.03 214.53 549.52 218.00 548.00 C221.83 546.32 225.81 544.25 230.00 542.50 C234.46 540.64 239.60 538.75 244.00 537.20 C247.87 535.83 250.93 534.80 255.00 533.60 C259.97 532.13 266.79 530.37 271.70 529.20 C275.53 528.29 278.78 527.63 282.00 527.00 C284.83 526.45 287.17 525.99 290.00 525.60 C293.16 525.17 296.16 524.90 300.10 524.60 C305.62 524.17 313.36 523.85 320.00 523.50 C326.66 523.15 333.81 522.76 340.00 522.50 C345.36 522.28 349.39 522.15 355.00 522.00 C362.15 521.81 371.15 521.87 379.40 521.50 C387.91 521.12 398.20 520.87 405.30 519.70 C410.39 518.86 414.39 517.97 418.20 516.30 C421.63 514.80 424.82 512.83 427.30 510.50 C429.61 508.34 431.17 505.84 432.80 503.00 C434.66 499.77 436.12 495.77 437.60 492.00 C439.13 488.11 440.55 484.18 441.80 480.00 C443.13 475.54 444.17 470.67 445.30 466.00 C446.43 461.34 447.58 456.76 448.60 452.00 C449.65 447.10 450.67 442.64 451.50 437.00 C452.56 429.81 453.08 421.08 454.00 412.30 C455.05 402.28 456.37 391.17 457.50 380.10 C458.71 368.32 459.82 356.43 461.00 343.60 C462.32 329.32 463.68 312.75 465.00 298.30 C466.21 285.05 467.32 272.15 468.60 260.20 C469.74 249.57 470.93 240.12 472.20 230.10 C473.47 220.09 474.92 209.55 476.20 200.10 C477.35 191.63 478.38 183.20 479.50 176.00 C480.42 170.11 481.25 165.98 482.30 160.00 C483.64 152.38 485.54 141.99 486.90 134.00 C488.06 127.18 488.78 121.14 490.00 115.00" stroke="#000" stroke-width="2.9" stroke-dasharray="18 10.7"/>
<path d="M490.00 115.00 C491.16 109.16 492.49 103.16 494.00 98.00 C495.30 93.56 496.61 90.10 498.30 85.80 C500.25 80.84 502.83 74.45 505.20 70.00 C507.06 66.50 508.50 63.11 510.90 61.00 C513.01 59.14 515.79 57.65 518.40 57.50 C521.11 57.34 524.38 58.41 526.90 60.30 C530.07 62.68 532.64 67.81 534.90 72.00 C537.22 76.30 538.65 80.47 540.60 85.80 C543.19 92.88 546.11 102.50 548.60 110.90 C551.08 119.27 553.20 127.70 555.50 136.10 C557.80 144.50 560.23 152.27 562.40 161.30 C564.87 171.61 567.21 184.71 569.30 194.70 C571.00 202.83 572.41 208.97 574.00 216.80 C575.80 225.64 577.51 235.81 579.50 245.10 C581.45 254.17 583.91 263.28 585.80 271.90 C587.55 279.87 588.80 287.54 590.50 295.00 C592.11 302.08 593.98 308.73 595.70 315.60 C597.42 322.46 599.05 329.49 600.80 336.20 C602.48 342.65 604.10 348.55 606.00 355.10 C608.07 362.24 610.69 370.46 612.80 377.40 C614.65 383.48 616.29 389.32 618.00 394.50 C619.45 398.87 620.64 402.50 622.30 406.50 C624.02 410.67 625.85 415.24 628.20 419.00 C630.40 422.53 632.67 426.12 635.80 428.50 C638.93 430.88 642.93 432.98 647.00 433.30 C651.60 433.67 657.36 431.40 662.10 429.50 C666.78 427.62 671.11 424.57 675.30 422.00 C679.26 419.57 682.73 416.56 686.60 414.50 C690.27 412.54 693.56 410.79 697.90 409.80 C703.28 408.58 710.45 408.50 716.70 408.80 C722.98 409.10 728.80 411.05 735.50 411.60 C743.11 412.23 751.83 411.87 760.00 412.00" stroke="#000" stroke-width="2.9" stroke-dasharray="18 10.7" stroke-dashoffset="27.73"/>
<path d="M458.8 380.0 C458.93 393.33 459.02 405.92 459.2 420.0 C459.40 435.74 459.73 453.77 460.0 470.0 C460.26 485.40 460.49 501.91 460.8 515.0 C461.04 525.14 461.10 535.42 461.6 542.0 C461.89 545.81 462.25 550.98 462.7 551.0 C463.07 551.02 463.62 547.13 464.0 545.0 C464.43 542.62 464.76 540.55 465.1 537.4 C465.65 532.31 466.05 524.32 466.5 517.3 C466.99 509.59 467.40 500.85 467.9 493.0 C468.37 485.61 468.87 477.55 469.4 471.5 C469.79 467.07 470.14 464.15 470.6 460.0 C471.15 455.10 471.77 449.15 472.5 444.0 C473.18 439.17 473.61 433.71 474.8 430.0 C475.65 427.35 476.83 423.65 478.0 423.5 C478.93 423.38 480.14 425.38 481.0 427.0 C482.35 429.55 483.06 434.03 484.0 438.0 C485.08 442.60 486.03 448.45 487.0 453.0 C487.82 456.82 488.42 460.00 489.4 463.5 C490.41 467.10 491.74 470.97 493.0 474.3 C494.12 477.25 495.10 480.44 496.5 482.5 C497.54 484.04 498.67 485.35 500.0 486.0 C501.20 486.59 502.67 486.58 504.0 486.5 C505.34 486.42 506.47 485.83 508.0 485.5 C510.04 485.06 512.17 484.38 515.2 484.2 C520.29 483.91 528.06 485.28 535.8 485.5 C545.78 485.79 560.82 484.67 570.1 485.3 C576.49 485.74 581.17 486.02 586.2 487.6 C591.08 489.13 595.44 491.74 599.9 494.5 C604.62 497.42 609.09 501.45 613.7 504.8 C618.25 508.11 622.28 512.06 627.4 514.5 C632.82 517.09 640.26 519.08 645.5 519.6 C649.40 519.99 651.86 519.32 655.9 518.8 C661.64 518.05 669.92 516.11 676.6 515.0 C682.83 513.96 688.11 512.94 694.7 512.3 C702.54 511.54 711.97 511.18 720.6 511.1 C729.23 511.02 737.00 511.54 746.5 511.8 C758.13 512.12 770.77 512.69 785.3 512.9 L849.0 512.9" stroke="#000" stroke-width="3.4" stroke-dasharray="3.6 3.6"/>
</g>
<rect x="66" y="12" width="783" height="601" fill="none" stroke="#262626" stroke-width="2"/>
<text transform="translate(148.42 656.70) scale(1.030 1.045)" text-anchor="middle" font-size="36.5" fill="#262626" stroke="#262626" stroke-width="0.3">0</text><text transform="translate(313.26 656.70) scale(1.030 1.045)" text-anchor="middle" font-size="36.5" fill="#262626" stroke="#262626" stroke-width="0.3">100</text><text transform="translate(478.11 656.70) scale(1.030 1.045)" text-anchor="middle" font-size="36.5" fill="#262626" stroke="#262626" stroke-width="0.3">200</text><text transform="translate(642.95 656.70) scale(1.030 1.045)" text-anchor="middle" font-size="36.5" fill="#262626" stroke="#262626" stroke-width="0.3">300</text><text transform="translate(807.79 656.70) scale(1.030 1.045)" text-anchor="middle" font-size="36.5" fill="#262626" stroke="#262626" stroke-width="0.3">400</text><text transform="translate(56.40 625.90) scale(1.060 1.045)" text-anchor="end" font-size="36.5" fill="#262626" stroke="#262626" stroke-width="0.3">0</text><text transform="translate(56.40 525.73) scale(1.060 1.045)" text-anchor="end" font-size="36.5" fill="#262626" stroke="#262626" stroke-width="0.3">1</text><text transform="translate(56.40 425.57) scale(1.060 1.045)" text-anchor="end" font-size="36.5" fill="#262626" stroke="#262626" stroke-width="0.3">2</text><text transform="translate(56.40 325.40) scale(1.060 1.045)" text-anchor="end" font-size="36.5" fill="#262626" stroke="#262626" stroke-width="0.3">3</text><text transform="translate(56.40 225.23) scale(1.060 1.045)" text-anchor="end" font-size="36.5" fill="#262626" stroke="#262626" stroke-width="0.3">4</text><text transform="translate(56.40 125.07) scale(1.060 1.045)" text-anchor="end" font-size="36.5" fill="#262626" stroke="#262626" stroke-width="0.3">5</text><text transform="translate(56.40 24.90) scale(1.060 1.045)" text-anchor="end" font-size="36.5" fill="#262626" stroke="#262626" stroke-width="0.3">6</text>
<text x="455.1" y="699.6" font-size="44" font-style="italic" fill="#262626" text-anchor="middle" style="font-family:'LM Roman 10','Latin Modern Roman','Liberation Serif',serif">x</text>
<text transform="translate(18.4,315.0) rotate(-90)" font-size="44" font-style="italic" fill="#262626" text-anchor="middle" style="font-family:'LM Roman 10','Latin Modern Roman','Liberation Serif',serif">z</text>
<rect x="609.3" y="30.2" width="221.7" height="330.2" fill="#fff" stroke="#262626" stroke-width="1.8"/>
<line x1="618" y1="53.75" x2="676" y2="53.75" stroke="#0072BD" stroke-width="3.5"/>
<text transform="translate(680.00 66.15) scale(1.000 1.045)" text-anchor="start" font-size="36.0" fill="#000" stroke="#000" stroke-width="0.3">0.00 h/nm</text>
<line x1="618" y1="94.21" x2="676" y2="94.21" stroke="#D95319" stroke-width="3.5"/>
<text transform="translate(680.00 106.61) scale(1.000 1.045)" text-anchor="start" font-size="36.0" fill="#000" stroke="#000" stroke-width="0.3">0.01 h/nm</text>
<line x1="618" y1="134.67" x2="676" y2="134.67" stroke="#EDB120" stroke-width="3.5"/>
<text transform="translate(680.00 147.07) scale(1.000 1.045)" text-anchor="start" font-size="36.0" fill="#000" stroke="#000" stroke-width="0.3">0.04 h/nm</text>
<line x1="618" y1="175.13" x2="676" y2="175.13" stroke="#7E2F8E" stroke-width="3.5"/>
<text transform="translate(680.00 187.53) scale(1.000 1.045)" text-anchor="start" font-size="36.0" fill="#000" stroke="#000" stroke-width="0.3">0.07 h/nm</text>
<line x1="618" y1="215.59" x2="676" y2="215.59" stroke="#77AC30" stroke-width="3.5"/>
<text transform="translate(680.00 227.99) scale(1.000 1.045)" text-anchor="start" font-size="36.0" fill="#000" stroke="#000" stroke-width="0.3">0.15 h/nm</text>
<line x1="618" y1="256.05" x2="676" y2="256.05" stroke="#4DBEEE" stroke-width="3.5"/>
<text transform="translate(680.00 268.45) scale(1.000 1.045)" text-anchor="start" font-size="36.0" fill="#000" stroke="#000" stroke-width="0.3">0.26 h/nm</text>
<line x1="618" y1="296.51" x2="676" y2="296.51" stroke="#A2142F" stroke-width="3.5"/>
<text transform="translate(680.00 308.91) scale(1.000 1.045)" text-anchor="start" font-size="36.0" fill="#000" stroke="#000" stroke-width="0.3">0.41 h/nm</text>
<line x1="618" y1="336.97" x2="676" y2="336.97" stroke="#0072BD" stroke-width="3.5"/>
<text transform="translate(680.00 349.37) scale(1.000 1.045)" text-anchor="start" font-size="36.0" fill="#000" stroke="#000" stroke-width="0.3">0.56 h/nm</text>
</svg></body></html>
